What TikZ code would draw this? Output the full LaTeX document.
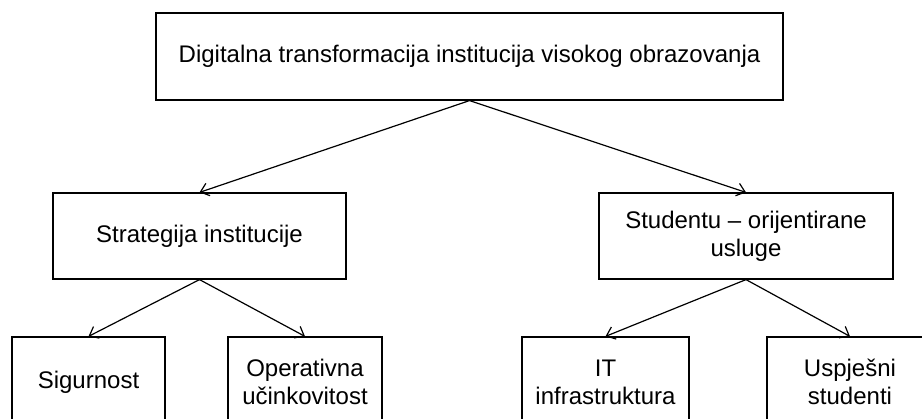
\documentclass[tikz,border=0pt]{standalone}
\usepackage{fontspec}
\setmainfont{Liberation Sans}
\usetikzlibrary{arrows.meta}
\tikzset{>={Straight Barb[length=8pt,width=13pt]}}
\tikzset{blok/.style={draw,line width=1.2pt,inner sep=0pt,align=center,font=\fontsize{24}{28}\selectfont}}

\begin{document}
\begin{tikzpicture}[x=1pt,y=-1pt,line width=1.2pt]
    \useasboundingbox (0,0) rectangle (922,419);
    \clip (0,0) rectangle (922,419);
    \node[blok,minimum width=627pt,minimum height=87pt] (DT) at (469.5,56.5) {Digitalna transformacija institucija visokog obrazovanja};
    \node[blok,minimum width=293pt,minimum height=86pt] (SI) at (199.5,236) {Strategija institucije};
    \node[blok,minimum width=294pt,minimum height=86pt] (SU) at (746,236) {Studentu -- orijentirane\\usluge};
    \node[blok,minimum width=153pt,minimum height=90pt] (Sig) at (88.5,382) {Sigurnost};
    \node[blok,minimum width=154pt,minimum height=90pt] (Op) at (305,382) {Operativna\\učinkovitost};
    \node[blok,minimum width=167pt,minimum height=90pt] (IT) at (605.5,382) {IT\\infrastruktura};
    \node[blok,minimum width=166pt,minimum height=90pt] (Us) at (850,382) {Uspješni\\studenti};
    \draw[->] (DT.south) -- (SI.north);
    \draw[->] (DT.south) -- (SU.north);
    \draw[->] (SI.south) -- (Sig.north);
    \draw[->] (SI.south) -- (Op.north);
    \draw[->] (SU.south) -- (IT.north);
    \draw[->] (SU.south) -- (Us.north);
  \end{tikzpicture}
\end{document}
